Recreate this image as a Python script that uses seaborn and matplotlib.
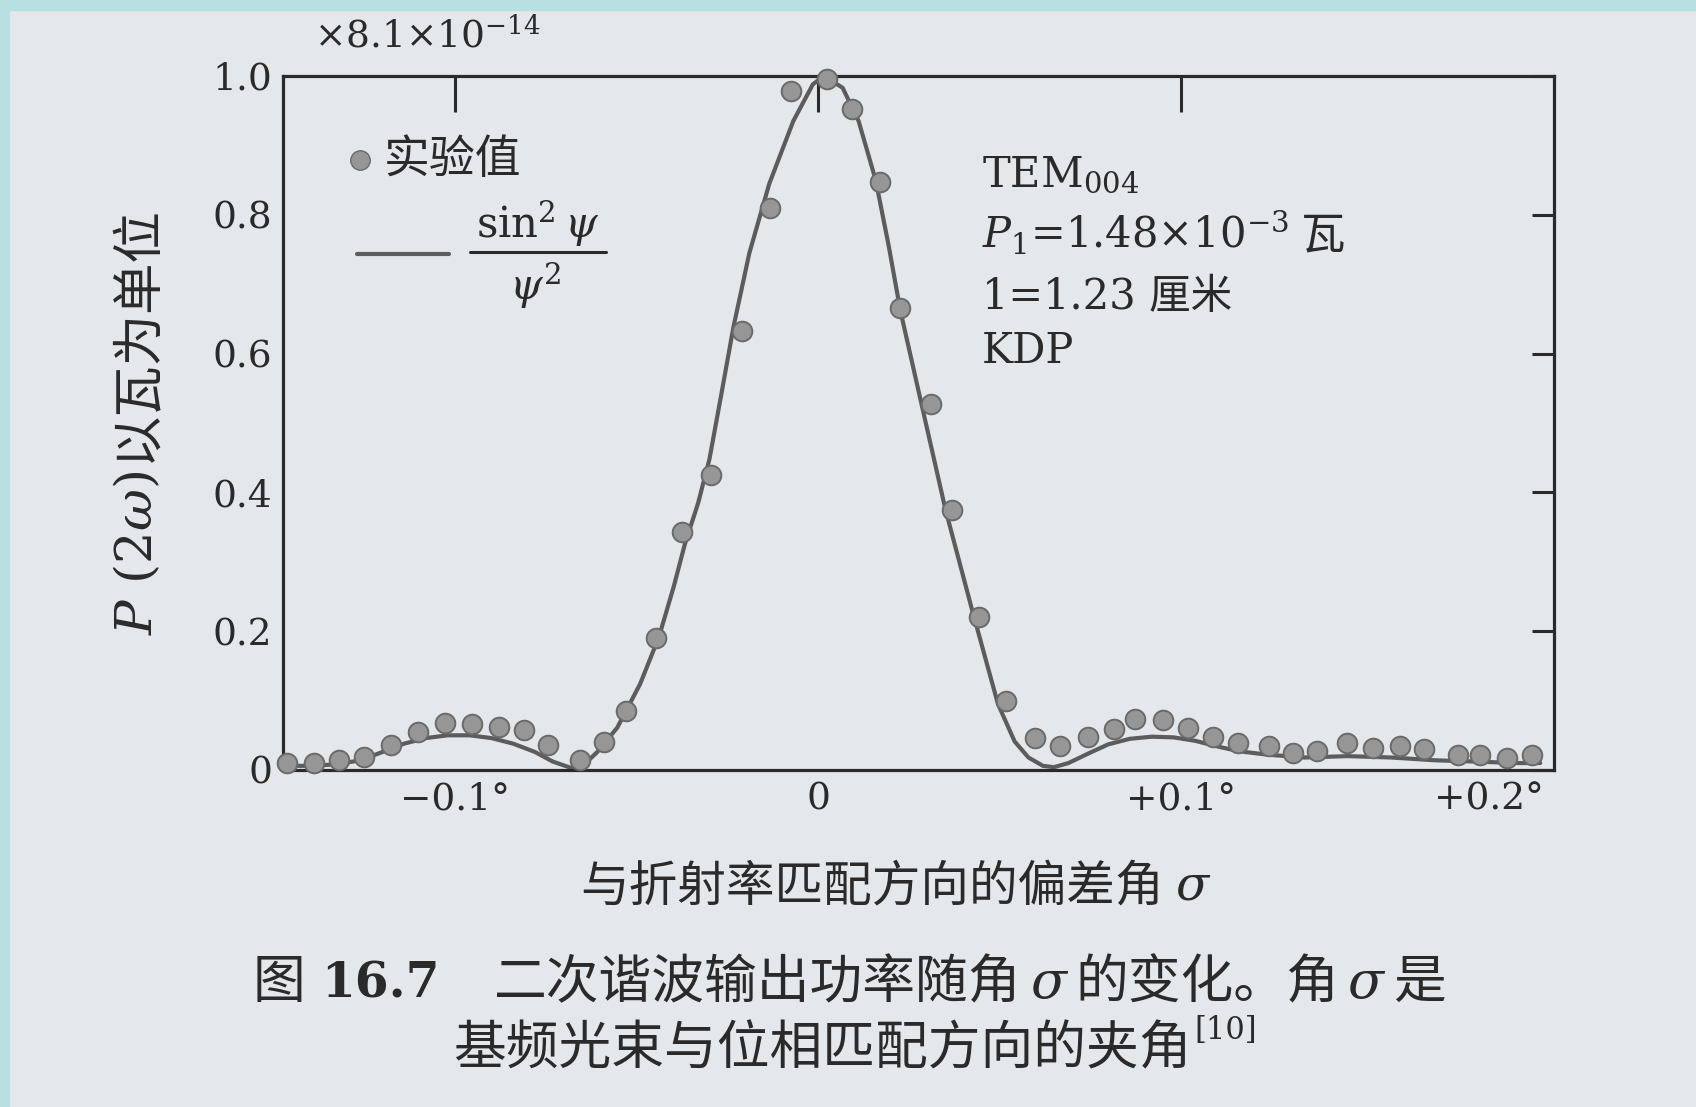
import matplotlib
matplotlib.use("Agg")
import matplotlib.pyplot as plt
from matplotlib.patches import Rectangle
from matplotlib.lines import Line2D
import seaborn as sns

# Measured points (deviation angle in degrees, normalised P(2w))
pts_x = [-0.1463, -0.1389, -0.1320, -0.1251, -0.1177, -0.1103, -0.1029, -0.0954,
         -0.0880, -0.0811, -0.0743, -0.0657, -0.0589, -0.0530, -0.0445, -0.0376,
         -0.0296, -0.0210, -0.0133, -0.0073, 0.0026, 0.0093, 0.0170, 0.0226,
         0.0312, 0.0370, 0.0443, 0.0519, 0.0598, 0.0668, 0.0745, 0.0816,
         0.0873, 0.0950, 0.1020, 0.1088, 0.1157, 0.1242, 0.1310, 0.1376,
         0.1458, 0.1529, 0.1603, 0.1671, 0.1764, 0.1825, 0.1898, 0.1967]
pts_y = [0.010, 0.010, 0.015, 0.019, 0.036, 0.055, 0.068, 0.066,
         0.062, 0.058, 0.036, 0.015, 0.040, 0.085, 0.190, 0.343,
         0.425, 0.632, 0.810, 0.978, 0.995, 0.953, 0.847, 0.665,
         0.527, 0.375, 0.220, 0.100, 0.046, 0.034, 0.048, 0.059,
         0.074, 0.072, 0.060, 0.048, 0.039, 0.035, 0.024, 0.027,
         0.039, 0.032, 0.034, 0.030, 0.022, 0.022, 0.017, 0.022]

# sin^2(psi)/psi^2 curve
curve_x = [-0.1475, -0.140, -0.133, -0.126, -0.120, -0.114, -0.108, -0.102, -0.096, -0.090,
           -0.084, -0.078, -0.073, -0.068, -0.064, -0.0608, -0.0553, -0.0490, -0.0438, -0.0397,
           -0.0367, -0.0330, -0.0299, -0.0265, -0.0233, -0.0189, -0.0134, -0.0068, -0.0014, 0.0016,
           0.0068, 0.0112, 0.0159, 0.0195, 0.0227, 0.0288, 0.0351, 0.0425, 0.0496, 0.0542,
           0.058, 0.062, 0.065, 0.069, 0.075, 0.080, 0.086, 0.092, 0.098, 0.104,
           0.110, 0.116, 0.124, 0.134, 0.146, 0.158, 0.170, 0.182, 0.192, 0.199]
curve_y = [0.006, 0.006, 0.008, 0.014, 0.026, 0.038, 0.046, 0.050, 0.050, 0.046,
           0.038, 0.026, 0.012, 0.003, 0.010, 0.026, 0.061, 0.124, 0.192, 0.265,
           0.325, 0.385, 0.448, 0.545, 0.638, 0.745, 0.845, 0.935, 0.988, 1.000,
           0.983, 0.935, 0.850, 0.755, 0.662, 0.521, 0.376, 0.230, 0.095, 0.041,
           0.018, 0.006, 0.004, 0.010, 0.025, 0.037, 0.045, 0.048, 0.047, 0.042,
           0.034, 0.027, 0.022, 0.018, 0.020, 0.018, 0.014, 0.012, 0.010, 0.010]

x_ticks = [-0.1, 0.0, 0.1, 0.2]
x_ticklabels = ["\u22120.1°", "0", "+0.1°", "+0.2°"]
y_ticks = [0.0, 0.2, 0.4, 0.6, 0.8, 1.0]
y_ticklabels = ["0", "0.2", "0.4", "0.6", "0.8", "1.0"]

PAGE = "#e5e8eb"
BORDER = "#b8dfe2"
INK = "#2a2a2a"
DOT = "#969696"
DOT_EDGE = "#6a6a6a"
LINE = "#5c5c5c"

sns.set_theme(style="white")
plt.rcParams["font.family"] = ["DejaVu Serif", "Noto Sans CJK SC"]
plt.rcParams["mathtext.fontset"] = "dejavuserif"
plt.rcParams["text.color"] = INK
plt.rcParams["axes.edgecolor"] = INK
plt.rcParams["xtick.color"] = INK
plt.rcParams["ytick.color"] = INK

W, H = 1696, 1107
fig = plt.figure(figsize=(W / 100, H / 100), dpi=100, facecolor=PAGE)
renderer = fig.canvas.get_renderer()


def fx(px):
    return px / W


def fy(py):
    return 1 - py / H


def text_width(s, **kw):
    t = fig.text(0, 0, s, **kw)
    w = t.get_window_extent(renderer).width
    t.remove()
    return w


def chain(pieces, x, y, ha="center"):
    # pieces: (string, text kwargs, raise in px, gap after in px); y is the baseline
    widths = [text_width(s, **kw) for s, kw, dy, gap in pieces]
    total = sum(widths) + sum(p[3] for p in pieces[:-1])
    left = x - total / 2 if ha == "center" else x
    for (s, kw, dy, gap), w in zip(pieces, widths):
        fig.text(fx(left), fy(y - dy), s, ha="left", va="baseline", **kw)
        left += w + gap


# scan border strips
fig.patches.append(Rectangle((0, 0), fx(9), 1, transform=fig.transFigure,
                             color=BORDER, zorder=0))
fig.patches.append(Rectangle((0, fy(10)), 1, 10 / H, transform=fig.transFigure,
                             color=BORDER, zorder=0))

ax = fig.add_axes([fx(283), fy(770), fx(1554) - fx(283), fy(76) - fy(770)])
ax.set_facecolor(PAGE)

sns.lineplot(x=curve_x, y=curve_y, ax=ax, color=LINE, linewidth=3.0,
             estimator=None, sort=False, zorder=2)
sns.scatterplot(x=pts_x, y=pts_y, ax=ax, s=200, color=DOT, edgecolor=DOT_EDGE,
                linewidth=1.4, zorder=3, clip_on=False)

ax.set_xlim(-0.1474, 0.2028)
ax.set_ylim(0, 1.0)

for sp in ax.spines.values():
    sp.set_linewidth(2.3)
    sp.set_color(INK)

ax.set_xticks(x_ticks)
ax.set_xticklabels(x_ticklabels, fontsize=27)
ax.set_yticks(y_ticks)
ax.set_yticklabels(y_ticklabels, fontsize=27)
ax.tick_params(axis="x", direction="in", length=26, width=2.2, top=True, pad=8)
ax.tick_params(axis="y", direction="in", length=16, width=2.2, right=True, pad=8)
ax.get_xticklabels()[-1].set_ha("right")
last = ax.xaxis.get_major_ticks()[-1]
last.tick1line.set_visible(False)
last.tick2line.set_visible(False)

# scale factor above the axes
fig.text(fx(427), fy(36), r"×8.1×10$^{-14}$", fontsize=27, ha="center", va="center")

# y label: math part and Chinese part set separately, rotated
yl_math = r"$P$ (2$\omega$)"
yl_cjk = "以瓦为单位"
w_math = text_width(yl_math, fontsize=37)
w_cjk = text_width(yl_cjk, fontsize=37)
gap = 8
y_bottom = 420 + (w_math + w_cjk + gap) / 2
y_join = y_bottom - w_math
fig.text(fx(152), fy(y_join), yl_math, fontsize=37, rotation=90, rotation_mode="anchor",
         ha="right", va="baseline")
fig.text(fx(152), fy(y_join - gap), yl_cjk, fontsize=37, rotation=90, rotation_mode="anchor",
         ha="left", va="baseline")

# x label
chain([("与折射率匹配方向的偏差角", dict(fontsize=35), 0, 12),
       ("σ", dict(fontsize=35, style="italic"), 0, 0)], 895, 900)

# in-plot legend
fig.lines.append(Line2D([fx(360)], [fy(160)], transform=fig.transFigure, marker="o",
                        markersize=14, markerfacecolor=DOT, markeredgecolor=DOT_EDGE,
                        linestyle="none"))
fig.text(fx(384), fy(160), "实验值", fontsize=33, ha="left", va="center")
fig.lines.append(Line2D([fx(357), fx(449)], [fy(254), fy(254)], transform=fig.transFigure,
                        color=LINE, linewidth=3.0))
fig.text(fx(538), fy(224), r"$\sin^2\psi$", fontsize=30, ha="center", va="center")
fig.lines.append(Line2D([fx(470), fx(606)], [fy(252), fy(252)], transform=fig.transFigure,
                        color=INK, linewidth=2.2))
fig.text(fx(535), fy(286), r"$\psi^2$", fontsize=30, ha="center", va="center")

# parameters block
fig.text(fx(982), fy(186), r"TEM$_{004}$", fontsize=30, ha="left", va="baseline")
chain([(r"$P_1$=1.48×10$^{-3}$", dict(fontsize=30), 0, 12),
       ("瓦", dict(fontsize=32), 0, 0)], 982, 248, ha="left")
fig.text(fx(982), fy(309), "1=1.23 厘米", fontsize=30, ha="left", va="baseline")
fig.text(fx(982), fy(363), "KDP", fontsize=30, ha="left", va="baseline")

# caption
chain([("图", dict(fontsize=38), 0, 16),
       ("16.7", dict(fontsize=35, weight="bold"), 0, 54),
       ("二次谐波输出功率随角", dict(fontsize=38), 0, 9),
       ("σ", dict(fontsize=38, style="italic"), 0, 9),
       ("的变化。角", dict(fontsize=38), 0, 9),
       ("σ", dict(fontsize=38, style="italic"), 0, 9),
       ("是", dict(fontsize=38), 0, 0)], 849, 998)
chain([("基频光束与位相匹配方向的夹角", dict(fontsize=38), 0, 2),
       ("[10]", dict(fontsize=22), 25, 0)], 855, 1064)

fig.savefig("out.png", dpi=100, facecolor=PAGE)
